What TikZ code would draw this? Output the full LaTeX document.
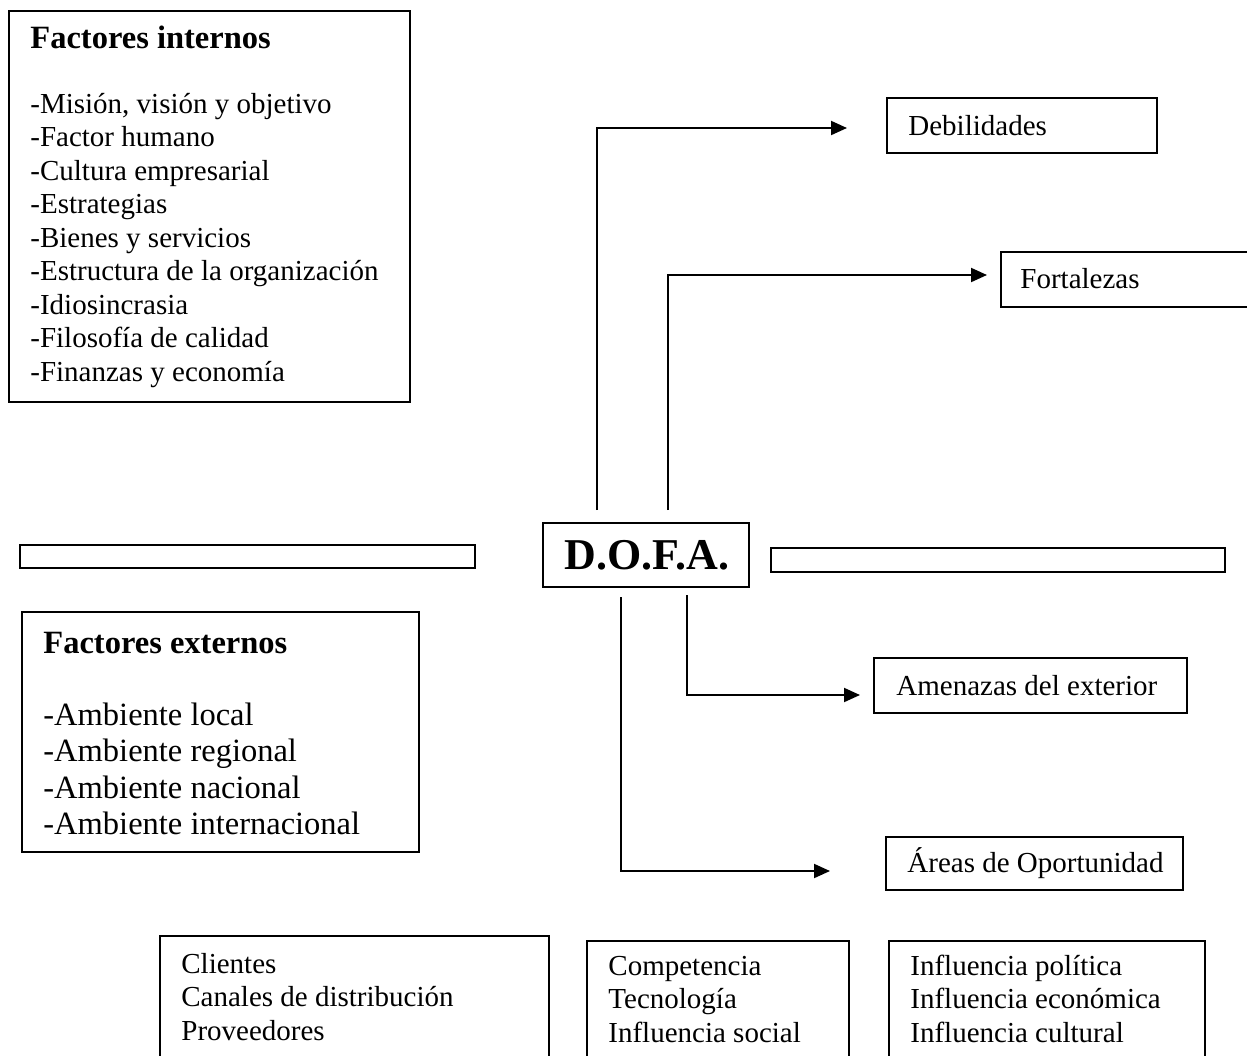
\documentclass[tikz,border=0pt]{standalone}
\usepackage{fontspec}
\setmainfont{Liberation Serif}
\usetikzlibrary{arrows.meta}
\begin{document}
\begin{tikzpicture}[x=0.5pt,y=-0.5pt,
  box/.style={draw, line width=0.9pt, inner sep=0pt, outer sep=0pt, anchor=north west},
  body/.style={anchor=base west, inner sep=0pt, font=\fontsize{14.5}{16.75}\selectfont},
  large/.style={anchor=base west, inner sep=0pt, font=\fontsize{16.25}{18.25}\selectfont},
  heading/.style={anchor=base west, inner sep=0pt, font=\fontsize{16.25}{18.25}\selectfont\bfseries},
  link/.style={line width=1pt, -{Triangle[length=8pt,width=7pt]}},
]
\useasboundingbox (0,0) rectangle (1247,1055);
\clip (0,0) rectangle (1247,1055);

% frames
\node[box, minimum width=200.5pt, minimum height=195.5pt] (internos) at (9,11) {};
\node[box, minimum width=198.5pt, minimum height=120pt] (externos) at (22,612) {};
\node[box, minimum width=135pt, minimum height=27.5pt] (debil) at (887,98) {};
\node[box, minimum width=134.5pt, minimum height=27.5pt] (fortal) at (1001,252) {};
\node[box, minimum width=103pt, minimum height=32pt] (dofa) at (543,523) {};
\node[box, minimum width=227.5pt, minimum height=11.5pt] (barL) at (20,545) {};
\node[box, minimum width=227pt, minimum height=12pt] (barR) at (771,548) {};
\node[box, minimum width=156.5pt, minimum height=27.5pt] (amen) at (874,658) {};
\node[box, minimum width=148.5pt, minimum height=26.5pt] (areas) at (886,837) {};
\node[box, minimum width=194.5pt, minimum height=72pt] (grupoA) at (160,936) {};
\node[box, minimum width=131pt, minimum height=69.5pt] (grupoB) at (587,941) {};
\node[box, minimum width=158pt, minimum height=69.5pt] (grupoC) at (889,941) {};

% texts
\node[heading] (tint) at (30,48) {Factores internos};
\foreach \t [count=\i from 0] in {{-Misión, visión y objetivo}, -Factor humano,
    -Cultura empresarial, -Estrategias, -Bienes y servicios,
    -Estructura de la organización, -Idiosincrasia, -Filosofía de calidad,
    -Finanzas y economía}
  \node[body] (int\i) at (30,113+33.5*\i) {\t};

\node[heading] (text) at (43,653) {Factores externos};
\foreach \t [count=\i from 0] in {-Ambiente local, -Ambiente regional,
    -Ambiente nacional, -Ambiente internacional}
  \node[large] (ext\i) at (43,725+36.5*\i) {\t};

\node[anchor=base west, inner sep=0pt, font=\fontsize{22}{26}\selectfont\bfseries] (tdofa) at (564,569) {D.O.F.A.};
\node[body] (tdebil) at (908,135) {Debilidades};
\node[body] (tfortal) at (1020,288) {Fortalezas};
\node[body] (tamen) at (896,695) {Amenazas del exterior};
\node[body] (tareas) at (907,872) {Áreas de Oportunidad};

\foreach \t [count=\i from 0] in {Clientes, Canales de distribución, Proveedores}
  \node[body] (ga\i) at (181,973+33.5*\i) {\t};
\foreach \t [count=\i from 0] in {Competencia, Tecnología, Influencia social}
  \node[body] (gb\i) at (608,975+33.5*\i) {\t};
\foreach \t [count=\i from 0] in {Influencia política, Influencia económica, Influencia cultural}
  \node[body] (gc\i) at (910,975+33.5*\i) {\t};

% connectors
\coordinate (s1) at (597,510);
\coordinate (e1) at (847,128);
\coordinate (s2) at (668,510);
\coordinate (e2) at (987,275);
\coordinate (s3) at (687,595);
\coordinate (e3) at (860,695);
\coordinate (s4) at (621,597);
\coordinate (e4) at (830,871);
\draw[link] (s1) |- (e1);
\draw[link] (s2) |- (e2);
\draw[link] (s3) |- (e3);
\draw[link] (s4) |- (e4);
\end{tikzpicture}
\end{document}
